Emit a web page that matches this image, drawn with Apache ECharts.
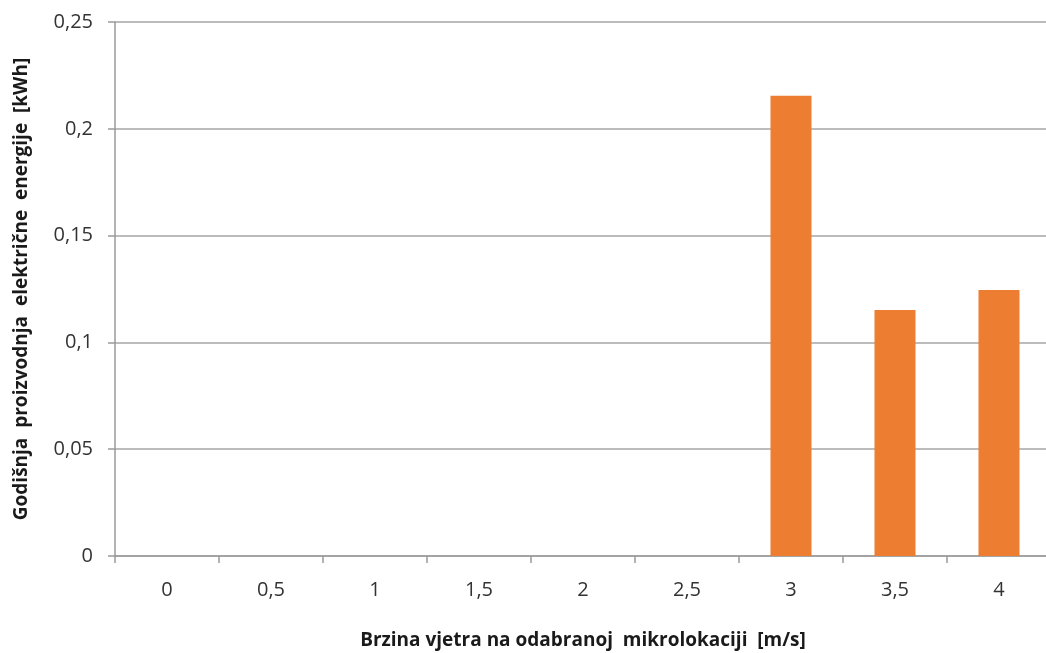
<!DOCTYPE html>
<html>
<head>
<meta charset="utf-8">
<script src="https://cdn.jsdelivr.net/npm/echarts@6/dist/echarts.min.js"></script>
<style>
html,body{margin:0;padding:0;background:#fff;}
#c{width:1046px;height:653px;}
</style>
</head>
<body>
<div id="c"></div>
<script>
const categories = ['0', '0,5', '1', '1,5', '2', '2,5', '3', '3,5', '4'];
const values = [0, 0, 0, 0, 0, 0, 0.2155, 0.1152, 0.1245];
const yTitle = 'Godišnja  proizvodnja  električne  energije  [kWh]';
const xTitle = 'Brzina vjetra na odabranoj  mikrolokaciji  [m/s]';

const chart = echarts.init(document.getElementById('c'));
const fontFam = '"Open Sans", "DejaVu Sans", sans-serif';
chart.setOption({
  animation: false,
  grid: { left: 115, right: -5, top: 22, bottom: 97, outerBoundsMode: 'none', containLabel: false },
  xAxis: {
    type: 'category',
    data: categories,
    boundaryGap: true,
    name: xTitle,
    nameLocation: 'middle',
    nameGap: 75,
    nameTextStyle: { fontFamily: fontFam, fontSize: 19, fontWeight: 'bold', color: '#1a1a1a' },
    axisLine: { lineStyle: { color: '#9a9a9a', width: 1.5 } },
    axisTick: { show: true, length: 7, lineStyle: { color: '#9a9a9a', width: 1.5 } },
    axisLabel: { fontFamily: fontFam, fontSize: 20, color: '#333', margin: 24 },
    splitLine: { show: false }
  },
  yAxis: {
    type: 'value',
    min: 0,
    max: 0.25,
    interval: 0.05,
    name: yTitle,
    nameLocation: 'middle',
    nameGap: 84,
    nameTextStyle: { fontFamily: fontFam, fontSize: 19, fontWeight: 'bold', color: '#1a1a1a' },
    axisLine: { show: true, lineStyle: { color: '#9a9a9a', width: 1.5 } },
    axisTick: { show: true, length: 7, lineStyle: { color: '#9a9a9a', width: 1.5 } },
    axisLabel: {
      fontFamily: fontFam, fontSize: 20, color: '#333', margin: 22,
      formatter: v => String(Math.round(v * 100) / 100).replace('.', ',')
    },
    splitLine: { show: true, lineStyle: { color: '#a6a6a6', width: 1.5 } }
  },
  series: [{
    type: 'bar',
    data: values,
    barWidth: 41,
    itemStyle: { color: '#ED7D31' }
  }]
});
</script>
</body>
</html>
